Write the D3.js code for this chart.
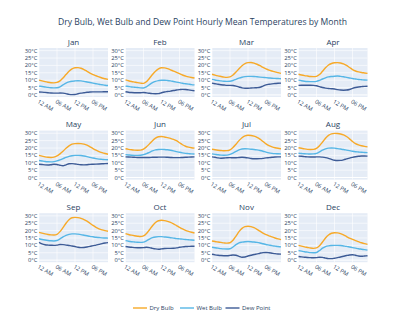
<!DOCTYPE html>
<html>
<head>
<meta charset="utf-8">
<script src="https://cdn.jsdelivr.net/npm/d3@7"></script>
<style>
  body { margin: 0; background: #fff; }
  svg { display: block; font-family: "Open Sans", sans-serif; }
</style>
</head>
<body>
<svg id="chart" width="405" height="321"></svg>
<script>
const months = ['Jan', 'Feb', 'Mar', 'Apr', 'May', 'Jun', 'Jul', 'Aug', 'Sep', 'Oct', 'Nov', 'Dec'];
const hours = d3.range(24);
const tickHours = [0, 6, 12, 18];
const tickLabels = ['12 AM', '06 AM', '12 PM', '06 PM'];
const tempTicks = [0, 5, 10, 15, 20, 25, 30];

// hourly means, one row per month (°C)
const dryBulb = [
  [10.0, 9.5, 9.0, 8.6, 8.3, 8.2, 8.5, 9.5, 11.5, 13.8, 16.0, 17.6, 18.4, 18.5, 18.1, 17.2, 16.0, 14.8, 13.8, 13.0, 12.2, 11.5, 11.0, 10.5],
  [10.2, 9.6, 9.1, 8.7, 8.3, 8.0, 7.8, 9.0, 11.3, 13.8, 16.0, 17.6, 18.4, 18.3, 17.8, 17.0, 16.2, 15.3, 14.4, 13.5, 12.8, 12.2, 11.8, 11.5],
  [14.0, 13.4, 12.9, 12.5, 12.1, 11.9, 12.2, 13.5, 15.5, 17.8, 19.8, 21.2, 21.9, 22.0, 21.6, 20.8, 19.8, 18.6, 17.6, 16.8, 16.2, 15.6, 15.1, 14.6],
  [14.0, 13.5, 13.1, 12.8, 12.5, 12.4, 12.6, 13.8, 16.0, 18.4, 20.3, 21.3, 21.8, 21.9, 21.6, 21.0, 20.0, 18.6, 17.2, 16.2, 15.6, 15.2, 14.9, 14.6],
  [15.0, 14.5, 14.0, 13.7, 13.6, 13.8, 14.6, 16.0, 17.8, 19.8, 21.5, 22.6, 23.0, 23.1, 23.0, 22.6, 21.9, 20.8, 19.6, 18.5, 17.6, 16.9, 16.3, 15.8],
  [19.5, 19.1, 18.8, 18.6, 18.5, 18.6, 19.2, 20.8, 22.8, 25.0, 26.7, 27.6, 27.8, 27.5, 27.0, 26.5, 25.9, 25.0, 23.6, 22.2, 21.2, 20.6, 20.2, 19.9],
  [19.2, 18.8, 18.5, 18.3, 18.1, 18.2, 18.8, 20.4, 22.6, 25.0, 27.0, 28.2, 28.6, 28.5, 28.0, 27.2, 26.0, 24.4, 22.8, 21.6, 20.8, 20.2, 19.8, 19.5],
  [20.2, 19.8, 19.4, 19.1, 19.0, 19.1, 19.7, 21.5, 24.0, 26.6, 28.6, 29.6, 29.9, 29.8, 29.5, 28.9, 27.8, 26.2, 24.4, 23.0, 22.1, 21.5, 21.1, 20.8],
  [18.8, 18.3, 17.8, 17.4, 17.1, 17.0, 17.5, 19.3, 22.0, 25.0, 27.4, 28.7, 29.0, 28.8, 28.3, 27.5, 26.4, 25.0, 23.5, 22.2, 21.2, 20.5, 20.0, 19.6],
  [18.0, 17.4, 16.9, 16.5, 16.2, 16.0, 16.4, 18.0, 20.6, 23.3, 25.5, 26.7, 27.0, 26.8, 26.3, 25.6, 24.6, 23.4, 22.2, 21.1, 20.2, 19.5, 18.9, 18.4],
  [13.0, 12.6, 12.3, 12.0, 11.7, 11.5, 11.8, 13.5, 16.3, 19.3, 21.5, 22.7, 23.0, 22.7, 22.0, 20.9, 19.6, 18.3, 17.3, 16.5, 15.7, 15.0, 14.4, 13.9],
  [10.0, 9.5, 9.0, 8.6, 8.2, 8.0, 8.3, 9.8, 12.3, 15.0, 17.0, 18.2, 18.6, 18.5, 18.0, 17.1, 16.0, 14.9, 14.0, 13.2, 12.5, 11.8, 11.2, 10.7]
];

const wetBulb = [
  [6.0, 5.7, 5.4, 5.1, 4.9, 4.8, 4.9, 5.5, 6.8, 8.0, 8.8, 9.3, 9.5, 9.6, 9.5, 9.2, 8.8, 8.4, 8.0, 7.6, 7.2, 6.9, 6.6, 6.4],
  [6.0, 5.7, 5.4, 5.2, 5.0, 4.8, 4.7, 5.5, 7.0, 8.3, 9.2, 9.7, 10.0, 10.0, 9.8, 9.5, 9.1, 8.7, 8.3, 7.9, 7.6, 7.3, 7.0, 6.8],
  [10.5, 10.1, 9.8, 9.5, 9.3, 9.2, 9.3, 9.8, 10.6, 11.4, 12.0, 12.4, 12.6, 12.6, 12.5, 12.3, 12.1, 11.9, 11.7, 11.5, 11.3, 11.2, 11.1, 11.0],
  [10.0, 9.6, 9.3, 9.1, 9.0, 9.0, 9.2, 9.9, 10.8, 11.6, 12.2, 12.5, 12.7, 12.8, 12.6, 12.3, 11.9, 11.5, 11.1, 10.8, 10.5, 10.3, 10.1, 10.0],
  [11.5, 11.2, 10.9, 10.7, 10.6, 10.8, 11.3, 12.0, 12.8, 13.6, 14.3, 14.8, 15.0, 15.0, 14.9, 14.6, 14.2, 13.7, 13.2, 12.8, 12.5, 12.3, 12.1, 12.0],
  [15.5, 15.3, 15.1, 15.0, 15.0, 15.1, 15.5, 16.2, 17.1, 18.0, 18.7, 19.0, 19.1, 19.0, 18.8, 18.5, 18.1, 17.6, 17.1, 16.7, 16.4, 16.2, 16.0, 15.9],
  [16.0, 15.7, 15.4, 15.2, 15.1, 15.2, 15.7, 16.6, 17.7, 18.7, 19.3, 19.5, 19.4, 19.2, 19.0, 18.7, 18.3, 17.8, 17.2, 16.7, 16.4, 16.2, 16.1, 16.0],
  [16.5, 16.3, 16.1, 16.0, 15.9, 16.0, 16.4, 17.4, 18.5, 19.4, 19.9, 20.0, 19.9, 19.6, 19.3, 19.0, 18.6, 18.2, 17.8, 17.5, 17.3, 17.1, 17.0, 16.9],
  [14.5, 14.0, 13.6, 13.3, 13.1, 13.0, 13.3, 14.4, 15.7, 16.8, 17.5, 17.8, 17.8, 17.6, 17.3, 16.9, 16.5, 16.1, 15.8, 15.5, 15.3, 15.1, 15.0, 14.9],
  [13.2, 12.8, 12.5, 12.3, 12.1, 12.0, 12.2, 13.1, 14.3, 15.2, 15.7, 15.9, 15.9, 15.7, 15.5, 15.2, 14.9, 14.6, 14.4, 14.2, 14.0, 13.8, 13.6, 13.5],
  [8.7, 8.4, 8.1, 7.8, 7.6, 7.5, 7.7, 8.9, 10.5, 11.7, 12.2, 12.5, 12.6, 12.5, 12.3, 12.0, 11.6, 11.1, 10.6, 10.2, 9.8, 9.5, 9.2, 9.0],
  [6.5, 6.1, 5.7, 5.4, 5.1, 5.0, 5.2, 6.5, 8.1, 9.2, 9.7, 9.9, 10.0, 10.0, 9.9, 9.6, 9.3, 8.9, 8.5, 8.1, 7.7, 7.4, 7.1, 6.8]
];

const dewPoint = [
  [2.0, 1.9, 1.7, 1.5, 1.3, 1.2, 1.2, 1.3, 1.2, 0.9, 0.4, 0.2, 0.3, 0.8, 1.2, 1.5, 1.8, 2.0, 2.1, 2.1, 2.1, 2.1, 2.2, 2.2],
  [2.2, 1.8, 1.6, 1.5, 1.5, 1.5, 1.6, 1.4, 1.1, 0.9, 0.8, 0.9, 1.5, 2.0, 2.3, 2.6, 3.0, 3.3, 3.6, 3.8, 3.7, 3.4, 3.1, 2.8],
  [8.0, 7.6, 7.2, 6.9, 6.7, 6.5, 6.5, 6.4, 6.0, 5.4, 4.8, 4.5, 4.5, 4.7, 4.8, 4.9, 5.2, 6.0, 6.8, 7.2, 7.5, 7.7, 7.9, 8.0],
  [6.5, 6.6, 6.6, 6.6, 6.6, 6.5, 6.2, 5.6, 5.0, 4.6, 4.4, 4.2, 4.0, 3.6, 3.3, 3.2, 3.3, 3.7, 4.4, 5.0, 5.4, 5.6, 5.8, 5.9],
  [9.0, 8.8, 8.6, 8.5, 8.7, 9.0, 8.8, 8.3, 8.0, 8.6, 9.3, 9.4, 9.2, 8.9, 8.7, 8.6, 8.7, 8.9, 9.0, 9.1, 9.2, 9.3, 9.4, 9.5],
  [14.0, 13.9, 13.8, 13.7, 13.6, 13.6, 13.6, 13.6, 13.6, 13.7, 13.7, 13.8, 13.8, 13.8, 13.7, 13.6, 13.5, 13.5, 13.5, 13.6, 13.7, 13.8, 13.9, 14.0],
  [14.0, 13.7, 13.3, 13.1, 13.2, 13.4, 13.5, 13.4, 13.4, 13.6, 13.7, 13.6, 13.3, 12.9, 12.7, 12.7, 12.8, 13.0, 13.3, 13.5, 13.7, 13.9, 14.0, 14.0],
  [14.5, 14.4, 14.2, 14.0, 13.9, 13.9, 14.0, 14.0, 13.8, 13.5, 13.0, 12.3, 11.7, 11.5, 11.6, 12.0, 12.6, 13.2, 13.7, 14.1, 14.4, 14.6, 14.6, 14.5],
  [12.0, 11.0, 10.4, 10.2, 10.1, 10.0, 10.2, 10.6, 10.5, 10.2, 9.9, 9.6, 9.2, 8.7, 8.5, 8.6, 8.9, 9.3, 9.8, 10.2, 10.7, 11.2, 11.6, 11.9],
  [9.2, 8.9, 8.7, 8.5, 8.4, 8.4, 8.5, 8.7, 8.5, 8.0, 7.6, 7.4, 7.6, 7.9, 8.0, 8.0, 8.1, 8.3, 8.7, 9.0, 9.2, 9.3, 9.4, 9.4],
  [4.0, 3.6, 3.3, 3.1, 3.0, 3.0, 3.2, 3.5, 3.3, 2.6, 2.0, 2.1, 2.8, 3.3, 3.8, 4.2, 4.7, 5.1, 5.2, 5.0, 4.7, 4.4, 4.2, 4.1],
  [2.5, 2.2, 2.0, 1.8, 1.7, 1.6, 1.7, 2.0, 1.9, 1.4, 1.0, 1.0, 1.3, 1.7, 2.1, 2.6, 3.1, 3.5, 3.6, 3.3, 2.8, 2.6, 2.8, 3.0]
];

const seriesNames = ['Dry Bulb', 'Wet Bulb', 'Dew Point'];
const seriesColors = ['#f7a928', '#56b6e6', '#3d5b96'];
const seriesData = [dryBulb, wetBulb, dewPoint];

const svg = d3.select('#chart');
const textColor = '#2a3f5f';

// subplot grid
const colX = [39, 125.5, 212, 298.5];
const rowY = [48, 130.6, 213.2];
const pw = 69, ph = 49;

const x = d3.scaleLinear().domain([0, 23]).range([0, pw]);
const y = d3.scaleLinear().domain([-1.4, 31.8]).range([ph, 0]);

svg.append('text')
  .attr('x', 202.5).attr('y', 25)
  .attr('text-anchor', 'middle')
  .attr('font-size', 8.6)
  .attr('fill', textColor)
  .text('Dry Bulb, Wet Bulb and Dew Point Hourly Mean Temperatures by Month');

const line = d3.line()
  .x((d, i) => x(hours[i]))
  .y(d => y(d))
  .curve(d3.curveMonotoneX);

months.forEach((m, mi) => {
  const g = svg.append('g')
    .attr('transform', `translate(${colX[mi % 4]},${rowY[Math.floor(mi / 4)]})`);

  g.append('rect')
    .attr('width', pw).attr('height', ph)
    .attr('fill', '#e5ecf6');

  g.selectAll('line.hgrid')
    .data(tempTicks)
    .join('line')
    .attr('class', 'hgrid')
    .attr('x1', 0).attr('x2', pw)
    .attr('y1', d => y(d)).attr('y2', d => y(d))
    .attr('stroke', '#fff')
    .attr('stroke-width', d => d === 0 ? 1 : 0.6);

  g.selectAll('line.vgrid')
    .data(tickHours)
    .join('line')
    .attr('class', 'vgrid')
    .attr('y1', 0).attr('y2', ph)
    .attr('x1', d => x(d)).attr('x2', d => x(d))
    .attr('stroke', '#fff')
    .attr('stroke-width', 0.6);

  // y axis labels
  g.selectAll('text.ytick')
    .data(tempTicks)
    .join('text')
    .attr('class', 'ytick')
    .attr('x', -1.5)
    .attr('y', d => y(d))
    .attr('dy', '0.35em')
    .attr('text-anchor', 'end')
    .attr('font-size', 5.8)
    .attr('fill', textColor)
    .text(d => d + '°C');

  // x axis labels, rotated
  g.selectAll('text.xtick')
    .data(tickHours)
    .join('text')
    .attr('class', 'xtick')
    .attr('transform', d => `translate(${x(d) - 1},${ph + 4}) rotate(30)`)
    .attr('dy', '0.35em')
    .attr('font-size', 5.8)
    .attr('fill', textColor)
    .text((d, i) => tickLabels[i]);

  g.append('text')
    .attr('x', pw / 2).attr('y', -3.5)
    .attr('text-anchor', 'middle')
    .attr('font-size', 8)
    .attr('fill', textColor)
    .text(m);

  seriesData.forEach((s, si) => {
    g.append('path')
      .attr('d', line(s[mi]))
      .attr('fill', 'none')
      .attr('stroke', seriesColors[si])
      .attr('stroke-width', 1.4);
  });
});

// legend
const legendX = [133, 180, 225.5];
const legend = svg.append('g').attr('transform', 'translate(0,308)');
seriesNames.forEach((name, i) => {
  legend.append('line')
    .attr('x1', legendX[i]).attr('x2', legendX[i] + 14)
    .attr('stroke', seriesColors[i])
    .attr('stroke-width', 1.4);
  legend.append('text')
    .attr('x', legendX[i] + 16.5)
    .attr('dy', '0.35em')
    .attr('font-size', 6)
    .attr('fill', textColor)
    .text(name);
});
</script>
</body>
</html>
